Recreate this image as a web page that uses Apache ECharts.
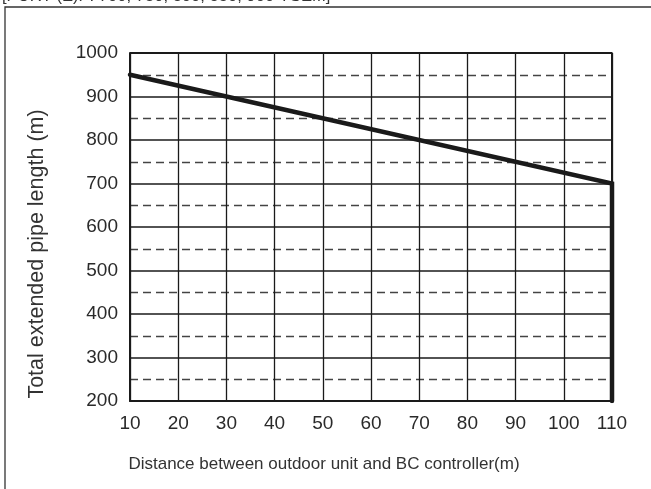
<!DOCTYPE html>
<html>
<head>
<meta charset="utf-8">
<script src="https://cdn.jsdelivr.net/npm/echarts@6/dist/echarts.min.js"></script>
<style>
  html, body { margin: 0; padding: 0; background: #fff; }
  #chart { width: 651px; height: 489px; }
</style>
</head>
<body>
<div id="chart"></div>
<script>
// Distance between outdoor unit and BC controller (m)
const distance = [10, 110, 110];
// Total extended pipe length limit (m)
const pipeLength = [950, 700, 200];
const xTicks = [10, 20, 30, 40, 50, 60, 70, 80, 90, 100, 110];
const yTicks = [200, 300, 400, 500, 600, 700, 800, 900, 1000];

const headerText = '[PURY-(E)P: 700, 750, 800, 850, 900 YSEM]';
const xTitle = 'Distance between outdoor unit and BC controller(m)';
const yTitle = 'Total extended pipe length (m)';

const chart = echarts.init(document.getElementById('chart'), null, { renderer: 'canvas' });

const font = 'Liberation Sans, Arial, sans-serif';

chart.setOption({
  animation: false,
  backgroundColor: '#fff',
  grid: { left: 130, right: 39, top: 53, bottom: 88, containLabel: false },
  graphic: [
    {
      type: 'rect',
      shape: { x: 5, y: 7, width: 700, height: 600 },
      style: { fill: 'none', stroke: '#333', lineWidth: 1.3 },
      silent: true
    },
    {
      type: 'text',
      left: 2, top: -12,
      style: { text: headerText, font: '16.6px ' + font, fill: '#333' },
      silent: true
    },
    {
      type: 'text',
      x: 37, y: 254, rotation: Math.PI / 2,
      style: { text: yTitle, font: '21.5px ' + font, fill: '#333', align: 'center', verticalAlign: 'middle' },
      silent: true
    },
    {
      type: 'text',
      x: 324, y: 464,
      style: { text: xTitle, font: '17px ' + font, fill: '#333', align: 'center', verticalAlign: 'middle' },
      silent: true
    }
  ],
  xAxis: {
    type: 'value',
    min: xTicks[0], max: xTicks[xTicks.length - 1], interval: 10,
    axisLine: { show: true, lineStyle: { color: '#1a1a1a', width: 2 } },
    axisTick: { show: false },
    axisLabel: { fontFamily: font, fontSize: 19, color: '#2a2a2a', margin: 13 },
    splitLine: { show: true, lineStyle: { color: '#1a1a1a', width: 1.3 } }
  },
  yAxis: {
    type: 'value',
    min: yTicks[0], max: yTicks[yTicks.length - 1], interval: 100,
    axisLine: { show: true, lineStyle: { color: '#1a1a1a', width: 2 } },
    axisTick: { show: false },
    axisLabel: { fontFamily: font, fontSize: 19, color: '#2a2a2a', margin: 12, formatter: v => String(v) },
    splitLine: { show: true, lineStyle: { color: '#1a1a1a', width: 1.5 } },
    minorTick: { show: false, splitNumber: 2 },
    minorSplitLine: { show: true, lineStyle: { color: '#444', width: 1.4, type: [8, 5] } }
  },
  series: [
    {
      type: 'line',
      data: distance.map((d, i) => [d, pipeLength[i]]),
      symbol: 'none',
      lineStyle: { color: '#1a1a1a', width: 4.5, cap: 'round', join: 'miter' },
      z: 5
    },
    {
      // plot frame top & right edges
      type: 'line',
      data: [[10, 1000], [110, 1000], [110, 200]],
      symbol: 'none',
      lineStyle: { color: '#1a1a1a', width: 2 },
      z: 4,
      silent: true
    }
  ]
});
</script>
</body>
</html>
